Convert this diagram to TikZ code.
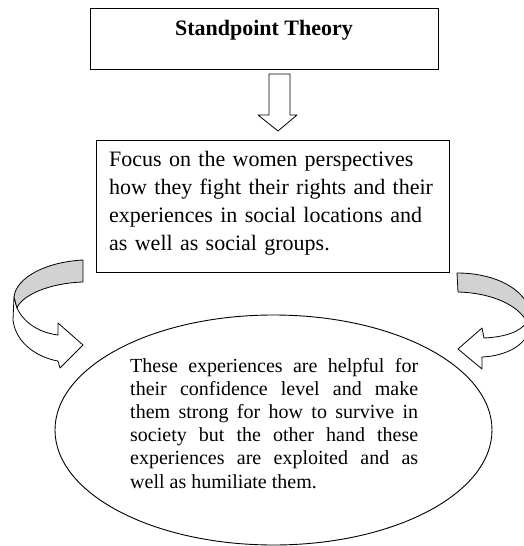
\documentclass[tikz,border=0pt]{standalone}
\usepackage{fontspec}
\setmainfont{Liberation Serif}
\usetikzlibrary{shapes.geometric}
\definecolor{bandgray}{RGB}{210,210,210}
\tikzset{
    boxline/.style={draw,line width=1pt,inner sep=0pt},
    bandline/.style={draw,line width=0.8pt,line join=round},
}
\begin{document}
\begin{tikzpicture}[x=1pt,y=-1pt]
        \useasboundingbox (0,0) rectangle (524,546);
        \clip (0,0) rectangle (524,546);
        %% title box
        \node[boxline,minimum width=348pt,minimum height=61pt] (titlebox) at (264,38.5) {};
        \node[anchor=base,font=\fontsize{22}{26}\selectfont\bfseries] (title) at (264,35) {Standpoint Theory};
        %% down arrow
        \draw[bandline,fill=white] (269,74) -- (290,74) -- (290,115) -- (297,115) -- (278,131) -- (258,115) -- (269,115) -- cycle;
        %% focus box
        \node[boxline,minimum width=353pt,minimum height=132pt] (focusbox) at (272.5,206) {};
        \node[anchor=base west,inner sep=0pt,text width=340pt,align=left,font=\fontsize{22}{28.3}\selectfont] (focus) at (109,166)
            {Focus on the women perspectives\\how they fight their rights and their\\experiences in social locations and\\as well as social groups.};
        %% ellipse
        \node[ellipse,draw,line width=0.9pt,minimum width=437pt,minimum height=230pt,inner sep=0pt] (result) at (273.5,430) {};
        \node[anchor=base west,inner sep=0pt,text width=288pt,align=justify,font=\fontsize{20}{23.2}\selectfont] (effects) at (130,372)
            {These experiences are helpful for\linebreak their confidence level and make\linebreak them strong for how to survive in\linebreak society but the other hand these\linebreak experiences are exploited and as\linebreak well as humiliate them.};
        %% left curved arrow
        \draw[bandline,fill=white] (14,297) -- (13,320) .. controls (16,345) and (40,358) .. (58,361) -- (60,368) -- (83,345) -- (58,323) -- (58,335) .. controls (42,333) and (25,325) .. (17,308) -- cycle;
        \draw[bandline,fill=bandgray] (83,260) -- (83,282) .. controls (50,283) and (22,295) .. (17,308) -- (14,297) .. controls (16,278) and (45,262) .. (83,260) -- cycle;
        %% right curved arrow
        \draw[bandline,fill=white] (528,305) -- (530,328) .. controls (526,346) and (505,356) .. (482,357) -- (482,369) -- (458,349) -- (482,328) -- (484,338) .. controls (505,337) and (520,332) .. (527,322) -- cycle;
        \draw[bandline,fill=bandgray] (457,273) .. controls (490,273) and (518,285) .. (528,305) -- (527,322) .. controls (518,305) and (492,293) .. (458,292) -- cycle;
    \end{tikzpicture}
\end{document}
